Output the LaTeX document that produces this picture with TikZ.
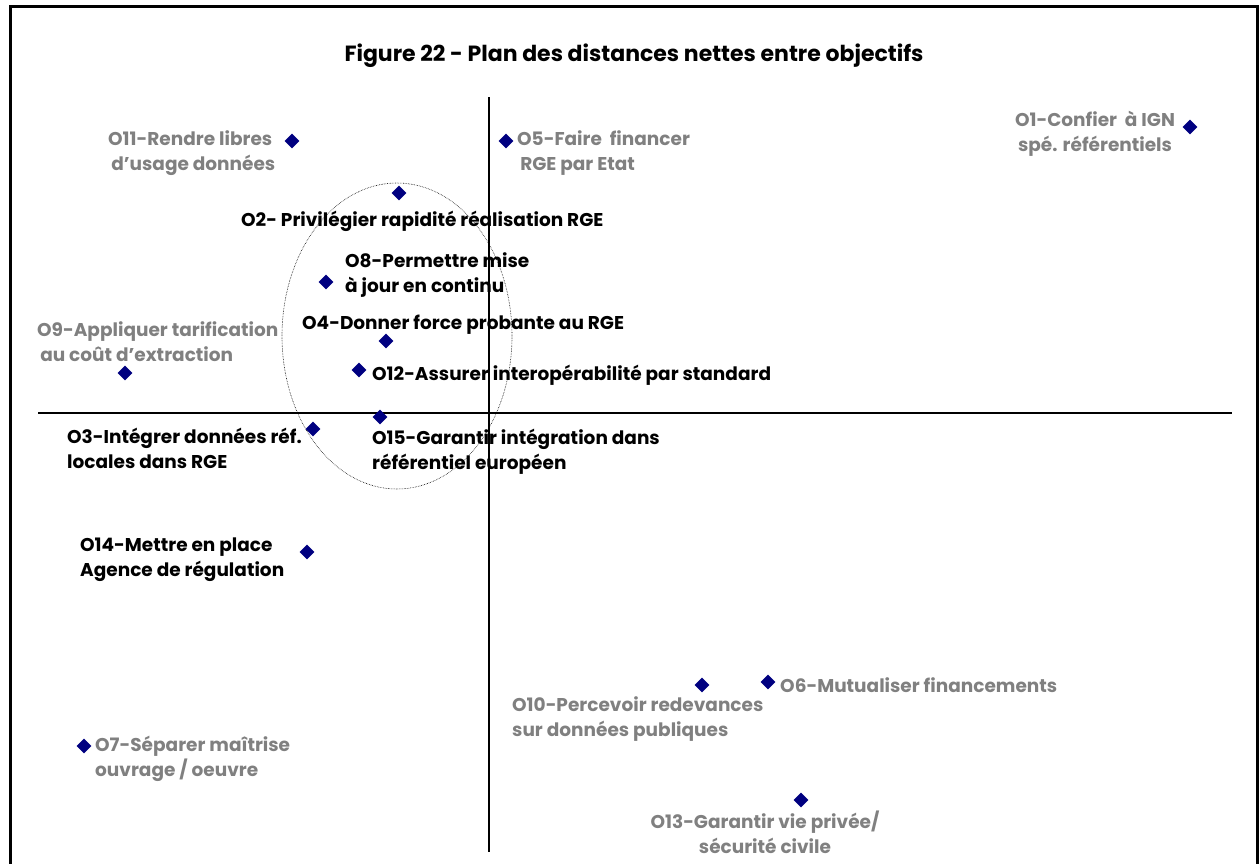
\documentclass[tikz,border=0pt]{standalone}
\usepackage{fontspec}
\setmainfont{Poppins}
\usetikzlibrary{shapes.geometric}
\definecolor{navy}{RGB}{0,0,128}
\definecolor{labgray}{RGB}{128,128,128}
\tikzset{
  pt/.style={diamond, fill=navy, draw=none, inner sep=0pt, minimum width=15pt, minimum height=15pt},
  % two-line labels: the base anchor sits on the last line
  lab/.style={font=\fontsize{18.5}{25}\selectfont\bfseries, inner sep=0pt, align=left, anchor=base west},
  grey/.style={lab, text=labgray},
  blk/.style={lab, text=black},
  axis/.style={line width=1.2pt, black}
}
\begin{document}
\begin{tikzpicture}[x=1pt, y=-1pt]
\useasboundingbox (0,0) rectangle (1260,863);
% frame
\draw[line width=3pt] (10.5,875) -- (10.5,6) -- (1257.5,6) -- (1257.5,875);
% title
\node[font=\fontsize{22}{26}\selectfont\bfseries, inner sep=0pt, anchor=base] (title) at (634,61) {Figure 22 - Plan des distances nettes entre objectifs};
% axes
\coordinate (vtop) at (489,97);
\coordinate (vbot) at (489,852);
\coordinate (hleft) at (38,413);
\coordinate (hright) at (1232,413);
\draw[axis] (vtop) -- (vbot);
\draw[axis] (hleft) -- (hright);
% cluster
\node[ellipse, draw, densely dotted, line width=0.6pt, minimum width=230pt, minimum height=306pt, inner sep=0pt] (cluster) at (397,336) {};
% points
\node[pt] (p11) at (292,141) {};
\node[pt] (p5) at (506,141) {};
\node[pt] (p1) at (1190,127) {};
\node[pt] (p2) at (399,193) {};
\node[pt] (p8) at (326,282) {};
\node[pt] (p4) at (386,341) {};
\node[pt] (p12) at (359,370) {};
\node[pt] (p9) at (125,373) {};
\node[pt] (p3) at (313,429) {};
\node[pt] (p15) at (380,417) {};
\node[pt] (p14) at (307,552) {};
\node[pt] (p10) at (702,685) {};
\node[pt] (p6) at (768,682) {};
\node[pt] (p7) at (84,746) {};
\node[pt] (p13) at (801,800) {};
% labels
\node[grey] (l11) at (108,170) {O11-Rendre libres\\\,d'usage données};
\node[grey] (l5) at (517,170) {O5-Faire\ \ financer\\\,RGE par Etat};
\node[grey, align=center, anchor=base] (l1) at (1095,151) {O1-Confier\ \ à IGN\\spé. référentiels};
\node[blk] (l2) at (241,226) {O2- Privilégier rapidité réalisation RGE};
\node[blk] (l8) at (345,292) {O8-Permettre mise\\à jour en continu};
\node[blk] (l4) at (302,329) {O4-Donner force probante au RGE};
\node[blk] (l12) at (372,380) {O12-Assurer interopérabilité par standard};
\node[grey] (l9) at (37,361) {O9-Appliquer tarification\\\,au coût d'extraction};
\node[blk] (l3) at (67,468) {O3-Intégrer données réf.\\locales dans RGE};
\node[blk] (l15) at (372,469) {O15-Garantir intégration dans\\référentiel européen};
\node[blk] (l14) at (80,576) {O14-Mettre en place\\Agence de régulation};
\node[grey] (l10) at (512,736) {O10-Percevoir redevances\\sur données publiques};
\node[grey] (l6) at (780,692) {O6-Mutualiser financements};
\node[grey] (l7) at (95,776) {O7-Séparer maîtrise\\ouvrage / oeuvre};
\node[grey, align=center, anchor=base] (l13) at (765,853) {O13-Garantir vie privée/\\sécurité civile};
\end{tikzpicture}
\end{document}
